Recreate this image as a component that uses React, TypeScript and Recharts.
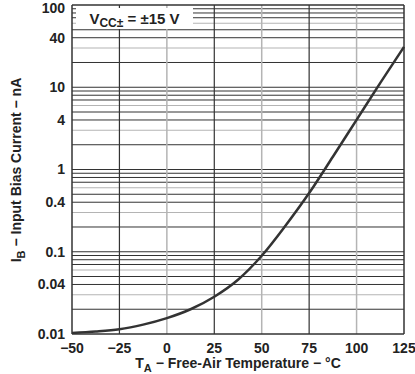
import { LineChart, Line, XAxis, YAxis, ReferenceLine } from "recharts";

// Input bias current vs free-air temperature, VCC± = ±15 V
const TEMPS = [-50, -37.5, -25, -12.5, 0, 12.5, 25, 37.5, 50, 62.5, 75, 87.5, 100, 112.5, 125];
const IB_NA = [0.0103, 0.0107, 0.0114, 0.013, 0.0156, 0.02, 0.0284, 0.0457, 0.0894, 0.207, 0.517, 1.43, 4.02, 11.3, 31];

const X_TICKS = [-50, -25, 0, 25, 50, 75, 100, 125];
const Y_TICKS = [0.01, 0.04, 0.1, 0.4, 1, 4, 10, 40, 100];

const X_GRID_DARK = [-25, 25, 75];
const X_GRID_LIGHT = [0, 50, 100];
const DECADES = [0.01, 0.1, 1, 10];
const MINOR_DARK = [2, 4, 5, 7, 8, 9];
const MINOR_LIGHT = [3, 6];

const data = TEMPS.map((t, i) => ({ t, ib: IB_NA[i] }));

const yDark = [0.1, 1, 10, ...DECADES.flatMap((d) => MINOR_DARK.map((m) => +(d * m).toPrecision(3)))];
const yLight = DECADES.flatMap((d) => MINOR_LIGHT.map((m) => +(d * m).toPrecision(3)));

const DARK = "#333";
const LIGHT = "#b4b4b4";
const FONT = "'Liberation Sans', Arial, sans-serif";
const tickStyle = { fill: "#222", fontSize: 14, fontWeight: 700, fontFamily: FONT };

const fmtX = (v: number) => (v < 0 ? `\u2212${Math.abs(v)}` : `${v}`);

export default function App() {
  return (
    <div style={{ position: "absolute", left: 0, top: 0, width: 415, height: 374, background: "#fff" }}>
      <LineChart width={415} height={374} data={data} margin={{ top: 5, right: 11, bottom: 0, left: 0 }}>
        <XAxis
          dataKey="t"
          type="number"
          domain={[-50, 125]}
          ticks={X_TICKS}
          tickFormatter={fmtX}
          tick={tickStyle}
          tickLine={false}
          tickSize={0}
          tickMargin={9}
          height={40}
          axisLine={{ stroke: DARK, strokeWidth: 1.5 }}
          label={{
            content: () => (
              <text x={238} y={368} textAnchor="middle" fill="#222" fontSize={14} fontWeight={700} fontFamily={FONT}>
                T<tspan fontSize={11} dy={4}>A</tspan>
                <tspan dy={-4}> {"\u2212"} Free-Air Temperature {"\u2212"} °C</tspan>
              </text>
            ),
          }}
        />
        <YAxis
          scale="log"
          domain={[0.01, 100]}
          allowDataOverflow
          ticks={Y_TICKS}
          tick={tickStyle}
          tickLine={false}
          tickSize={0}
          tickMargin={7}
          width={72}
          axisLine={{ stroke: DARK, strokeWidth: 1.5 }}
          label={{
            content: () => (
              <text
                x={21}
                y={170}
                transform="rotate(-90, 21, 170)"
                textAnchor="middle"
                fill="#222"
                fontSize={14}
                fontWeight={700}
                fontFamily={FONT}
              >
                I<tspan fontSize={11} dy={4}>B</tspan>
                <tspan dy={-4}> {"\u2212"} Input Bias Current {"\u2212"} nA</tspan>
              </text>
            ),
          }}
        />
        {yLight.map((v) => (
          <ReferenceLine key={`yl${v}`} y={v} stroke={LIGHT} strokeWidth={1.2} />
        ))}
        {yDark.map((v) => (
          <ReferenceLine key={`yd${v}`} y={v} stroke={DARK} strokeWidth={1} />
        ))}
        {X_GRID_LIGHT.map((v) => (
          <ReferenceLine key={`xl${v}`} x={v} stroke={LIGHT} strokeWidth={1.5} />
        ))}
        {X_GRID_DARK.map((v) => (
          <ReferenceLine key={`xd${v}`} x={v} stroke={DARK} strokeWidth={1.2} />
        ))}
        <ReferenceLine y={100} stroke={DARK} strokeWidth={1.5} />
        <ReferenceLine x={125} stroke={DARK} strokeWidth={1.5} />
        <Line
          type="monotone"
          dataKey="ib"
          stroke={DARK}
          strokeWidth={2.5}
          dot={false}
          activeDot={false}
          isAnimationActive={false}
        />
      </LineChart>
      <div
        style={{
          position: "absolute",
          left: 76,
          top: 8,
          width: 117,
          height: 20,
          paddingTop: 1,
          background: "#fff",
          fontFamily: FONT,
          fontWeight: 700,
          fontSize: 15,
          color: "#222",
          lineHeight: "20px",
          textAlign: "center",
          whiteSpace: "nowrap",
        }}
      >
        V<sub style={{ fontSize: 12, verticalAlign: "-3px", lineHeight: 0 }}>CC±</sub> = ±15 V
      </div>
    </div>
  );
}
